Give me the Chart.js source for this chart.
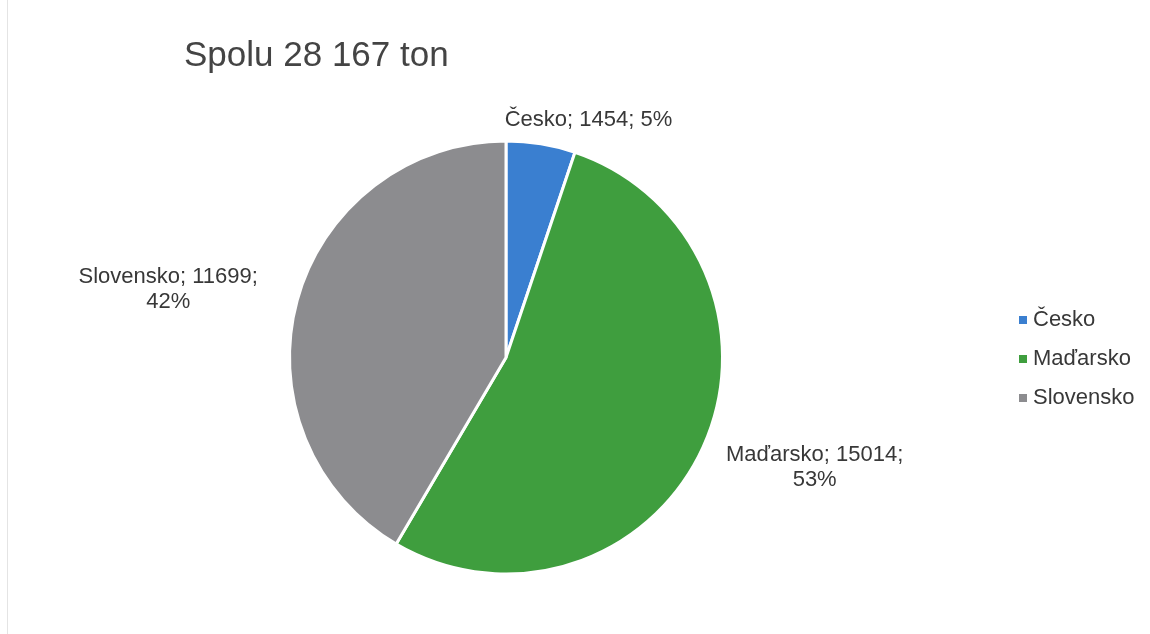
<!DOCTYPE html>
<html lang="sk">
<head>
<meta charset="utf-8">
<title>Spolu 28 167 ton</title>
<script src="https://cdn.jsdelivr.net/npm/chart.js@4/dist/chart.umd.min.js"></script>
<style>
  html, body { margin: 0; padding: 0; background: #fff; }
  #wrap { position: relative; width: 1150px; height: 634px; }
  #wrap::before {
    content: ""; position: absolute; left: 7px; top: 0; bottom: 0;
    border-left: 1px solid #e4e4e4;
  }
  canvas { display: block; }
</style>
</head>
<body>
<div id="wrap"><canvas id="graf" width="1150" height="634"></canvas></div>
<script>
const krajiny = ['Česko', 'Maďarsko', 'Slovensko'];
const tony = [1454, 15014, 11699];
const percenta = [5, 53, 42];
const farby = ['#3a7fd0', '#3f9e3e', '#8c8c8f'];
const nadpis = 'Spolu 28 167 ton';

const FONT = '"Liberation Sans", Arial, sans-serif';
const TEXT = '#383838';

// posun popiskov od bodu na obvode (px)
const posunPopiskov = [
  { dx: 44, dy: -3, riadky: 1 },
  { dx: 92, dy: 11, riadky: 2 },
  { dx: -108, dy: -5, riadky: 2 }
];

const popisky = {
  id: 'popisky',
  afterDraw(chart) {
    const ctx = chart.ctx;
    ctx.save();

    // nadpis
    ctx.font = '35px ' + FONT;
    ctx.fillStyle = '#444';
    ctx.textAlign = 'left';
    ctx.textBaseline = 'middle';
    ctx.fillText(nadpis, 184, 56);

    // popisky dielov
    ctx.font = '22px ' + FONT;
    ctx.fillStyle = TEXT;
    ctx.textAlign = 'center';
    const meta = chart.getDatasetMeta(0);
    meta.data.forEach((arc, i) => {
      const p = arc.getProps(['x', 'y', 'startAngle', 'endAngle', 'outerRadius'], true);
      const uhol = (p.startAngle + p.endAngle) / 2;
      const r = p.outerRadius * 1.1;
      const x = p.x + Math.cos(uhol) * r + posunPopiskov[i].dx;
      const y = p.y + Math.sin(uhol) * r + posunPopiskov[i].dy;
      const text = krajiny[i] + '; ' + tony[i] + '; ' + percenta[i] + '%';
      if (posunPopiskov[i].riadky === 1) {
        ctx.fillText(text, x, y);
      } else {
        ctx.fillText(krajiny[i] + '; ' + tony[i] + ';', x, y - 12.5);
        ctx.fillText(percenta[i] + '%', x, y + 12.5);
      }
    });

    // legenda
    ctx.textAlign = 'left';
    krajiny.forEach((k, i) => {
      const y = 320 + i * 39;
      ctx.fillStyle = farby[i];
      ctx.fillRect(1019, y - 4, 8, 8);
      ctx.fillStyle = TEXT;
      ctx.fillText(k, 1033, y);
    });

    ctx.restore();
  }
};

new Chart(document.getElementById('graf'), {
  type: 'pie',
  data: {
    labels: krajiny,
    datasets: [{
      data: tony,
      backgroundColor: farby,
      borderColor: '#ffffff',
      borderWidth: 3
    }]
  },
  options: {
    responsive: false,
    animation: false,
    layout: { padding: { top: 139, bottom: 58, left: 288, right: 426 } },
    plugins: {
      legend: { display: false },
      tooltip: { enabled: false },
      title: { display: false }
    }
  },
  plugins: [popisky]
});
</script>
</body>
</html>
